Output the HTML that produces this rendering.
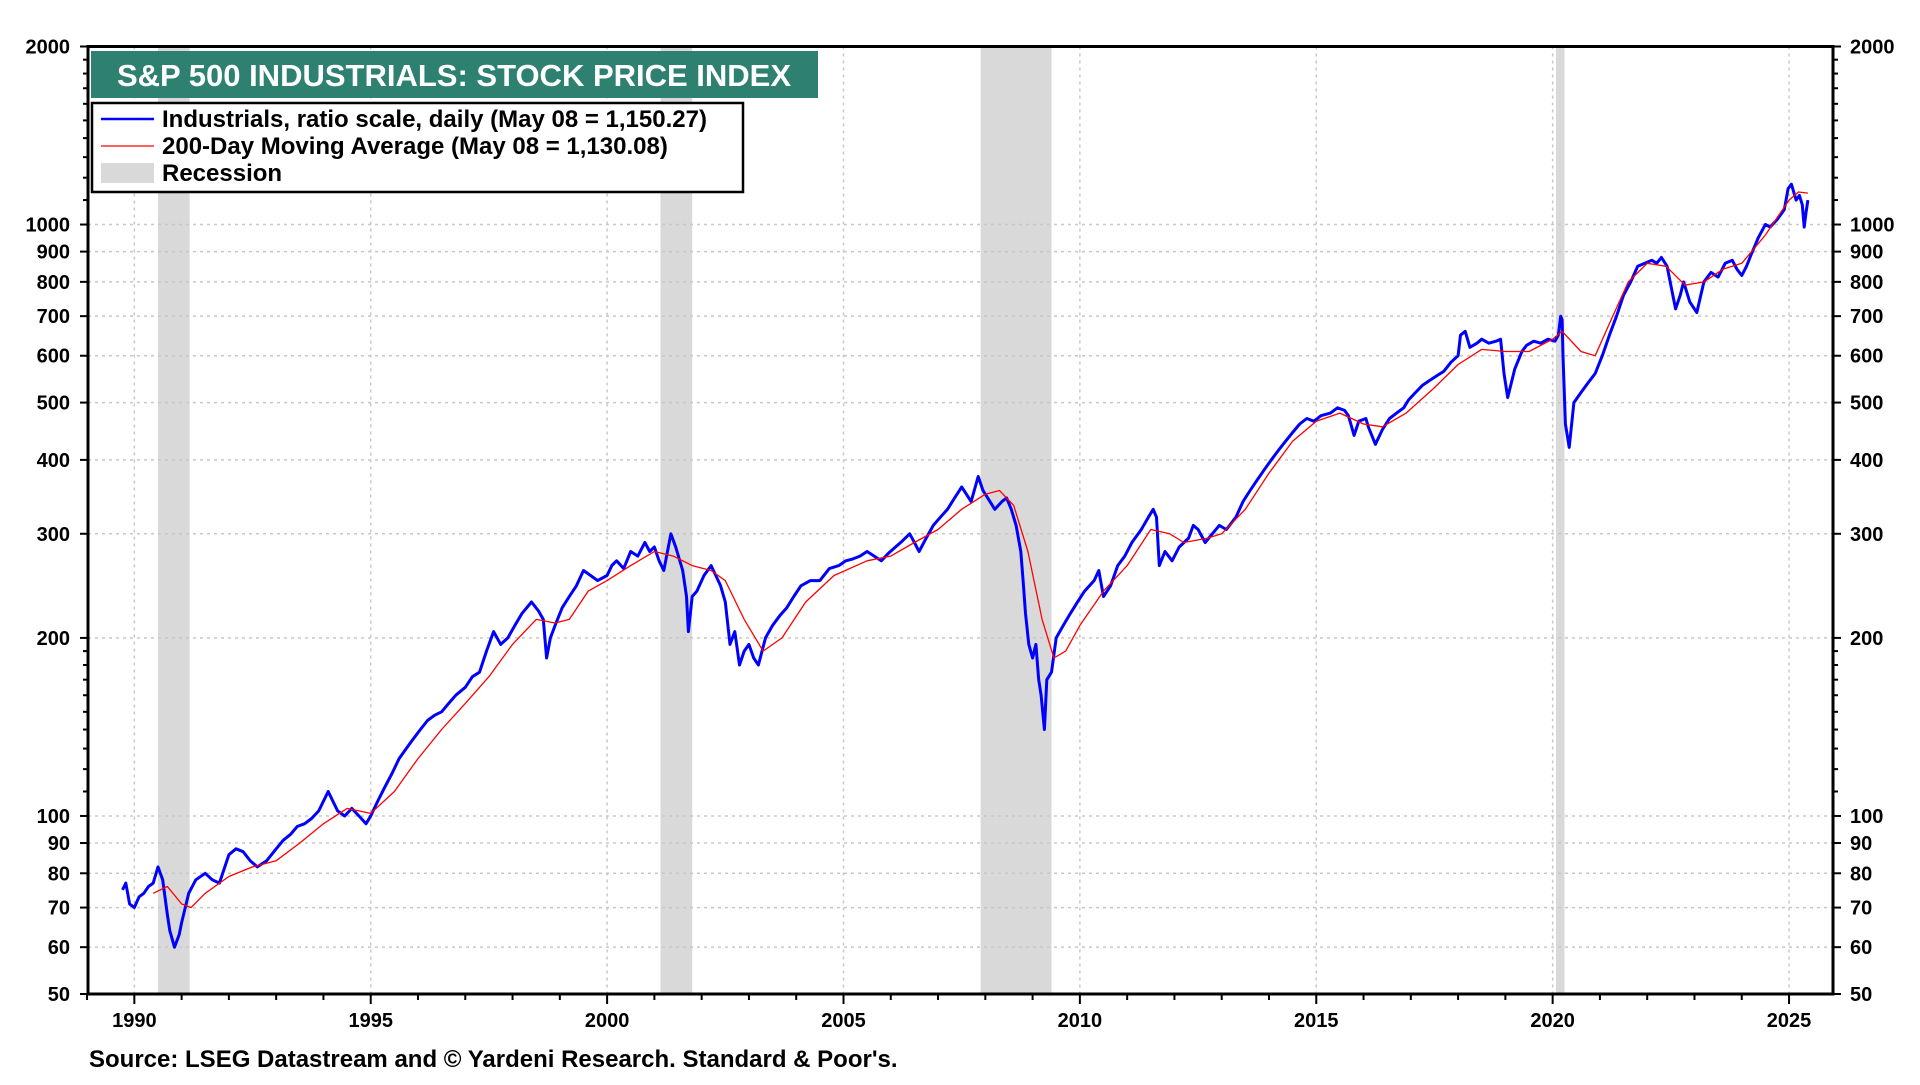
<!DOCTYPE html>
<html><head><meta charset="utf-8">
<style>
html,body{margin:0;padding:0;background:#fff;}
body{width:1920px;height:1080px;overflow:hidden;font-family:"Liberation Sans",sans-serif;}
svg text{font-family:"Liberation Sans",sans-serif;font-weight:bold;}
</style></head>
<body>
<svg id="chart" width="1920" height="1080" viewBox="0 0 1920 1080" xmlns="http://www.w3.org/2000/svg">
<g id="rec"></g>
<g id="grid"></g>
<g id="series"></g>
<rect x="88" y="46.5" width="1745" height="947.5" fill="none" stroke="#000" stroke-width="3"/>
<g id="axes"></g>
<rect x="91" y="51" width="727" height="47" fill="#2e8070"/>
<text x="454" y="86" text-anchor="middle" font-size="31" fill="#fff">S&amp;P 500 INDUSTRIALS: STOCK PRICE INDEX</text>
<g>
<rect x="92" y="103" width="651" height="89" fill="#fff" stroke="#000" stroke-width="2.5"/>
<line x1="101" y1="119" x2="154" y2="119" stroke="#0000ff" stroke-width="2.5"/>
<text x="162" y="127" font-size="24">Industrials, ratio scale, daily (May 08 = 1,150.27)</text>
<line x1="101" y1="146" x2="154" y2="146" stroke="#ff0000" stroke-width="1.2"/>
<text x="162" y="154" font-size="24">200-Day Moving Average (May 08 = 1,130.08)</text>
<rect x="101" y="163" width="53" height="20" fill="#d9d9d9"/>
<text x="162" y="181" font-size="24">Recession</text>
</g>
<text x="89" y="1067" font-size="24">Source: LSEG Datastream and © Yardeni Research. Standard &amp; Poor's.</text>
</svg>
<script>
const recessions = [[1990.5,1991.17],[2001.13,2001.8],[2007.9,2009.4],[2020.07,2020.25]];
const yTicks = [50,60,70,80,90,100,200,300,400,500,600,700,800,900,1000,2000];
const yMinor = [1100,1200,1300,1400,1500,1600,1700,1800,1900,110,120,130,140,150,160,170,180,190];
const xYears = [1990,1995,2000,2005,2010,2015,2020,2025];
const blueDates = [1989.75,1989.82,1989.9,1990.0,1990.1,1990.2,1990.3,1990.4,1990.5,1990.6,1990.7,1990.75,1990.85,1990.95,1991.0,1991.15,1991.3,1991.5,1991.65,1991.8,1992.0,1992.15,1992.3,1992.45,1992.6,1992.8,1993.0,1993.15,1993.3,1993.45,1993.6,1993.75,1993.9,1994.1,1994.3,1994.45,1994.6,1994.8,1994.9,1995.0,1995.15,1995.3,1995.45,1995.6,1995.75,1995.9,1996.05,1996.2,1996.35,1996.5,1996.65,1996.8,1997.0,1997.15,1997.3,1997.45,1997.6,1997.75,1997.9,1998.05,1998.2,1998.4,1998.55,1998.65,1998.72,1998.8,1998.9,1999.05,1999.2,1999.35,1999.5,1999.65,1999.8,2000.0,2000.1,2000.2,2000.35,2000.5,2000.65,2000.8,2000.9,2001.0,2001.1,2001.2,2001.35,2001.45,2001.6,2001.68,2001.72,2001.8,2001.9,2002.05,2002.2,2002.3,2002.4,2002.5,2002.6,2002.7,2002.8,2002.9,2003.0,2003.1,2003.2,2003.35,2003.5,2003.65,2003.8,2003.95,2004.1,2004.3,2004.5,2004.7,2004.9,2005.05,2005.2,2005.35,2005.5,2005.65,2005.8,2005.95,2006.1,2006.25,2006.4,2006.5,2006.6,2006.75,2006.9,2007.05,2007.2,2007.35,2007.5,2007.6,2007.7,2007.85,2007.95,2008.05,2008.2,2008.35,2008.45,2008.55,2008.65,2008.75,2008.8,2008.85,2008.92,2009.0,2009.07,2009.13,2009.18,2009.25,2009.3,2009.4,2009.5,2009.65,2009.8,2009.95,2010.1,2010.3,2010.4,2010.5,2010.65,2010.8,2010.95,2011.1,2011.3,2011.45,2011.55,2011.62,2011.68,2011.8,2011.95,2012.1,2012.3,2012.4,2012.5,2012.65,2012.8,2012.95,2013.1,2013.3,2013.45,2013.6,2013.75,2013.9,2014.05,2014.2,2014.35,2014.5,2014.65,2014.8,2014.95,2015.1,2015.3,2015.45,2015.6,2015.68,2015.8,2015.9,2016.05,2016.1,2016.25,2016.4,2016.55,2016.7,2016.85,2016.95,2017.1,2017.25,2017.4,2017.55,2017.7,2017.85,2018.0,2018.05,2018.15,2018.25,2018.4,2018.5,2018.65,2018.8,2018.9,2018.97,2019.05,2019.2,2019.35,2019.45,2019.6,2019.75,2019.9,2020.05,2020.12,2020.17,2020.2,2020.22,2020.27,2020.35,2020.45,2020.6,2020.75,2020.9,2021.05,2021.2,2021.35,2021.5,2021.65,2021.8,2021.95,2022.1,2022.2,2022.3,2022.42,2022.5,2022.6,2022.7,2022.77,2022.9,2023.05,2023.2,2023.35,2023.5,2023.65,2023.8,2023.9,2024.0,2024.1,2024.2,2024.35,2024.5,2024.6,2024.75,2024.9,2024.98,2025.05,2025.15,2025.22,2025.28,2025.32,2025.36,2025.4];
const blueValues = [75,77,71,70,73,74,76,77,82,78,68,64,60,63,66,74,78,80,78,77,86,88,87,84,82,84,88,91,93,96,97,99,102,110,102,100,103,99,97,100,106,112,118,125,130,135,140,145,148,150,155,160,165,172,175,190,205,195,200,210,220,230,222,215,185,200,210,225,235,245,260,255,250,255,265,270,262,280,275,290,280,285,270,260,300,285,260,235,205,235,240,255,265,255,245,230,195,205,180,190,195,185,180,200,210,218,225,235,245,250,250,262,265,270,272,275,280,275,270,278,285,292,300,290,280,295,310,320,330,345,360,350,340,375,355,345,330,340,345,330,310,280,250,220,195,185,195,170,160,140,170,175,200,210,220,230,240,250,260,235,245,265,275,290,305,320,330,320,265,280,270,285,295,310,305,290,300,310,305,320,340,355,370,385,400,415,430,445,460,470,465,475,480,490,485,475,440,465,470,455,425,450,470,480,490,505,520,535,545,555,565,585,600,650,660,620,630,640,630,635,640,560,510,570,610,625,635,630,640,635,650,700,690,600,460,420,500,520,540,560,600,650,700,760,800,850,860,870,860,880,850,790,720,760,800,740,710,800,830,815,860,870,840,820,850,890,950,1000,990,1020,1060,1150,1170,1100,1120,1080,990,1050,1100,1150];
const maDates = [1990.4,1990.7,1991.0,1991.2,1991.5,1992.0,1992.5,1993.0,1993.5,1994.0,1994.5,1995.0,1995.5,1996.0,1996.5,1997.0,1997.5,1998.0,1998.5,1998.9,1999.2,1999.6,2000.0,2000.5,2001.0,2001.4,2001.8,2002.2,2002.5,2002.9,2003.3,2003.7,2004.2,2004.8,2005.5,2006.0,2006.5,2007.0,2007.5,2008.0,2008.3,2008.6,2008.9,2009.2,2009.45,2009.7,2010.0,2010.5,2011.0,2011.5,2011.9,2012.2,2012.7,2013.0,2013.5,2014.0,2014.5,2015.0,2015.5,2016.0,2016.4,2016.9,2017.5,2018.0,2018.5,2019.0,2019.5,2020.0,2020.2,2020.6,2020.9,2021.2,2021.6,2022.0,2022.4,2022.8,2023.2,2023.6,2024.0,2024.5,2025.0,2025.2,2025.4];
const maValues = [74,76,71,70,74,79,82,84,90,97,103,101,110,125,140,155,172,195,215,212,215,240,250,265,280,275,265,260,250,215,190,200,230,255,270,275,290,305,330,350,355,335,280,215,185,190,210,240,265,305,300,290,295,300,330,380,430,465,480,460,455,480,530,580,615,610,610,640,660,610,600,680,800,860,850,790,800,840,860,960,1100,1135,1130];

const L=88,R=1833,T=46.5,B=994;
const x0=1989.02,x1=2025.93;
function xs(d){return L+(d-x0)/(x1-x0)*(R-L);}
function ys(v){return B-(Math.log10(v)-Math.log10(50))/(Math.log10(2000)-Math.log10(50))*(B-T);}
const NS="http://www.w3.org/2000/svg";
function mk(parent,tag,attrs){const e=document.createElementNS(NS,tag);for(const k in attrs)e.setAttribute(k,attrs[k]);document.getElementById(parent).appendChild(e);return e;}

recessions.forEach(function(r){
  const e=mk('rec','rect',{x:xs(r[0]),y:T,width:xs(r[1])-xs(r[0]),height:B-T,fill:'#d9d9d9'});
  
  
});
yTicks.forEach(function(v){
  if(v!==50&&v!==2000){
    const g=mk('grid','line',{x1:L,x2:R,y1:ys(v),y2:ys(v),stroke:'#c8c8c8','stroke-width':1.5,'stroke-dasharray':'3,4'});
    
    
  }
  [[L-8,L],[R,R+8]].forEach(function(p){mk('axes','line',{x1:p[0],x2:p[1],y1:ys(v),y2:ys(v),stroke:'#000','stroke-width':2});});
  const t1=mk('axes','text',{x:L-18,y:ys(v)+7,'text-anchor':'end','font-size':20});
  t1.textContent=v;
  
  
  const t2=mk('axes','text',{x:R+17,y:ys(v)+7,'text-anchor':'start','font-size':20});
  t2.textContent=v;
  
  
});
yMinor.forEach(function(v){
  [[L-5,L],[R,R+5]].forEach(function(p){mk('axes','line',{x1:p[0],x2:p[1],y1:ys(v),y2:ys(v),stroke:'#000','stroke-width':2});});
});
xYears.forEach(function(yr){
  const g=mk('grid','line',{x1:xs(yr),x2:xs(yr),y1:T,y2:B,stroke:'#c8c8c8','stroke-width':1.5,'stroke-dasharray':'3,4'});
  
  
  const t=mk('axes','text',{x:xs(yr),y:1027,'text-anchor':'middle','font-size':20});
  t.textContent=yr;
  
  
});
for(let yr=1989;yr<=2025;yr++){mk('axes','line',{x1:xs(yr),x2:xs(yr),y1:B,y2:B+(yr%5===0?10:6),stroke:'#000','stroke-width':2});}

function path(ds,vs,color,w,name){
  let d='';ds.forEach(function(t,i){d+=(i?'L':'M')+xs(t).toFixed(1)+','+ys(vs[i]).toFixed(1);});
  const p=mk('series','path',{d:d,fill:'none',stroke:color,'stroke-width':w,'stroke-linejoin':'round'});
  
  
}
path(blueDates,blueValues,'#0000ff',3,'industrials-line');
path(maDates,maValues,'#ff0000',1.3,'moving-average-line');
</script>
</body></html>
